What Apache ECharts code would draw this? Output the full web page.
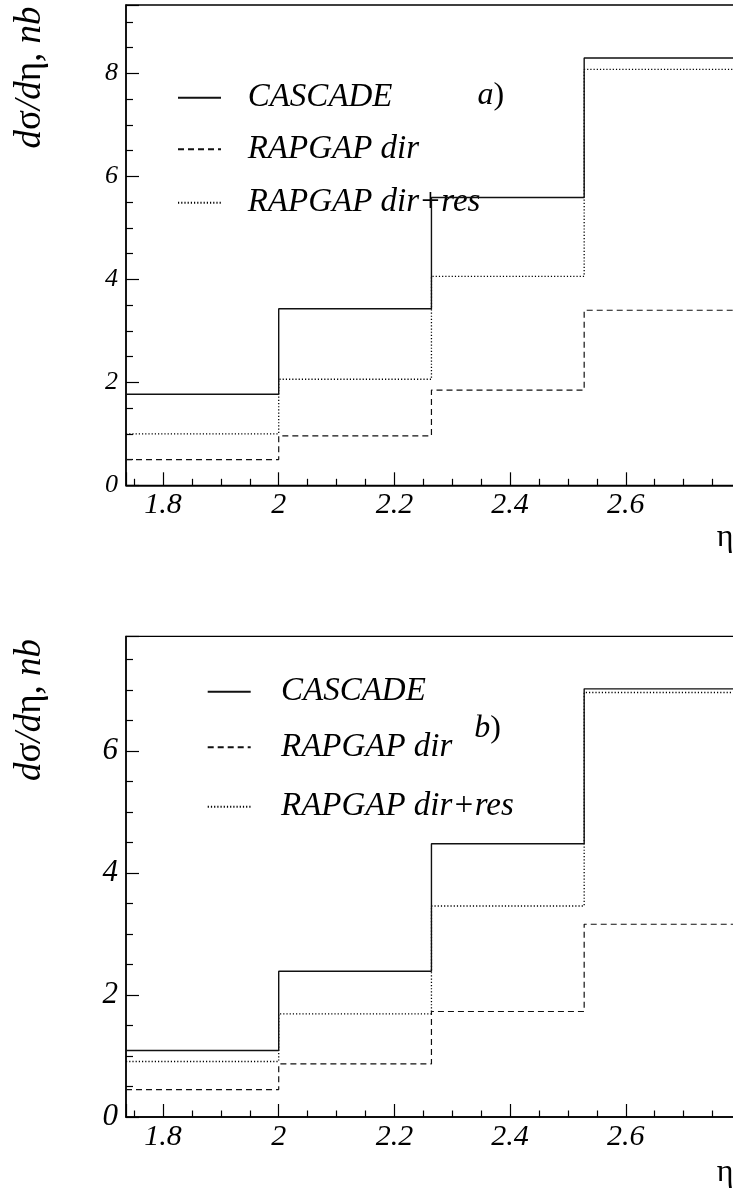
<!DOCTYPE html>
<html>
<head>
<meta charset="utf-8">
<script src="https://cdn.jsdelivr.net/npm/echarts@6/dist/echarts.min.js"></script>
<style>
html,body{margin:0;padding:0;background:#fff;}
#chart{width:733px;height:1191px;}
</style>
</head>
<body>
<div id="chart"></div>
<script>
// ---- data ----
const seriesNames = ['CASCADE', 'RAPGAP dir', 'RAPGAP dir+res'];
const binEdges = [1.736, 2.0, 2.264, 2.528, 2.792];
const cascadeA = [1.77, 3.43, 5.59, 8.30];
const rapgapDirA = [0.50, 0.96, 1.85, 3.40];
const rapgapDirResA = [1.00, 2.06, 4.06, 8.08];
const cascadeB = [1.09, 2.39, 4.48, 7.02];
const rapgapDirB = [0.45, 0.87, 1.73, 3.16];
const rapgapDirResB = [0.91, 1.69, 3.46, 6.96];
const panelLabels = ['a)', 'b)'];

// ---- helpers ----
function histPoints(edges, vals) {
  const pts = [];
  for (let i = 0; i < vals.length; i++) pts.push([edges[i], vals[i]]);
  pts.push([edges[edges.length - 1], vals[vals.length - 1]]);
  return pts;
}
const FONT = 'Liberation Serif';
const styles = [
  {type: 'solid', width: 1.4, color: '#111'},
  {type: [6, 4], width: 1.2, color: '#111'},
  {type: [1.2, 2], width: 1.3, color: '#000'}
];
const xPx = 578.5;
const xMin = 1.736, xMax = 2.85;

function xAxisDef(gridIndex, fs) {
  return {
    type: 'value', gridIndex: gridIndex, min: xMin, max: xMax,
    splitLine: {show: false},
    axisLine: {show: true, lineStyle: {color: '#000', width: 1.5}},
    axisTick: {show: true, inside: true, length: 13, lineStyle: {color: '#000', width: 1.2}},
    minorTick: {show: true, splitNumber: 4, length: 6.5, lineStyle: {color: '#000', width: 1.2}},
    axisLabel: {
      show: true, margin: 5, showMinLabel: false, showMaxLabel: false,
      fontFamily: FONT, fontStyle: 'italic', fontSize: fs, color: '#000',
      formatter: function (v) { return v > 2.7 ? '' : String(Math.round(v * 10) / 10); }
    }
  };
}
function yAxisDef(gridIndex, max, fs) {
  return {
    type: 'value', gridIndex: gridIndex, min: 0, max: max,
    splitLine: {show: false},
    axisLine: {show: true, lineStyle: {color: '#000', width: 1.5}},
    axisTick: {show: true, inside: true, length: 13, lineStyle: {color: '#000', width: 1.2}},
    minorTick: {show: true, splitNumber: 4, length: 7, lineStyle: {color: '#000', width: 1.2}},
    axisLabel: {
      show: true, margin: 8, showMaxLabel: false,
      fontFamily: FONT, fontStyle: 'italic', fontSize: fs, color: '#000'
    }
  };
}
function makeSeries(gridIndex, arrs) {
  return arrs.map(function (vals, k) {
    return {
      name: seriesNames[k], type: 'line', step: 'end',
      xAxisIndex: gridIndex, yAxisIndex: gridIndex,
      data: histPoints(binEdges, vals),
      symbol: 'none', silent: true, animation: false,
      z: 10 - k,
      lineStyle: styles[k]
    };
  });
}
function legendItem(name, left, rowY, textLeft) {
  const itemW = 43;
  return {
    left: left, top: rowY - 17, orient: 'vertical', padding: 0,
    data: [name], itemWidth: itemW, itemHeight: 34, selectedMode: false,
    itemStyle: {opacity: 0},
    textStyle: {
      fontFamily: FONT, fontStyle: 'italic', fontSize: 33, color: '#000',
      lineHeight: 34, padding: [0, 0, 0, textLeft - left - itemW - 5]
    }
  };
}
function textEl(x, y, rich, text, rot) {
  return {
    type: 'text', x: x, y: y, rotation: rot || 0, silent: true,
    style: {text: text, rich: rich, align: 'center', verticalAlign: 'middle', fill: '#000'}
  };
}
const titleRich = {
  i: {fontFamily: FONT, fontStyle: 'italic', fontSize: 37, fill: '#000'},
  g: {fontFamily: FONT, fontStyle: 'normal', fontSize: 37, fill: '#000'}
};
const yTitle = '{i|d}{g|σ}{i|/d}{g|η}{i|, nb}';
const labRich = {
  i: {fontFamily: FONT, fontStyle: 'italic', fontSize: 32, fill: '#000'},
  n: {fontFamily: FONT, fontStyle: 'normal', fontSize: 32, fill: '#000'}
};

const gridW = (xMax - xMin) * xPx;
const option = {
  backgroundColor: '#fff',
  animation: false,
  grid: [
    {left: 126, top: 5, width: gridW, height: 480.3, show: true, borderColor: '#000', borderWidth: 1.3, backgroundColor: 'transparent', outerBoundsMode: 'none', containLabel: false},
    {left: 126, top: 636.4, width: gridW, height: 480.6, show: true, borderColor: '#000', borderWidth: 1.3, backgroundColor: 'transparent', outerBoundsMode: 'none', containLabel: false}
  ],
  xAxis: [xAxisDef(0, 30), xAxisDef(1, 30)],
  yAxis: [yAxisDef(0, 9.33, 26), yAxisDef(1, 7.88, 31)],
  legend: [
    legendItem(seriesNames[0], 177, 97.7, 246.7),
    legendItem(seriesNames[1], 177, 149.3, 246.7),
    legendItem(seriesNames[2], 177, 202.7, 246.7),
    legendItem(seriesNames[0], 206.7, 691.7, 280),
    legendItem(seriesNames[1], 206.7, 747.3, 280),
    legendItem(seriesNames[2], 206.7, 806.7, 280)
  ],
  series: [].concat(
    makeSeries(0, [cascadeA, rapgapDirA, rapgapDirResA]),
    makeSeries(1, [cascadeB, rapgapDirB, rapgapDirResB])
  ),
  graphic: [
    textEl(30, 77.5, titleRich, yTitle, Math.PI / 2),
    textEl(30, 710, titleRich, yTitle, Math.PI / 2),
    textEl(490.8, 96, labRich, '{i|' + panelLabels[0].charAt(0) + '}{n|' + panelLabels[0].charAt(1) + '}'),
    textEl(487.5, 729, labRich, '{i|' + panelLabels[1].charAt(0) + '}{n|' + panelLabels[1].charAt(1) + '}'),
    textEl(725, 538, labRich, '{n|η}'),
    textEl(725, 1173, labRich, '{n|η}')
  ]
};
const chart = echarts.init(document.getElementById('chart'), null, {renderer: 'canvas'});
chart.setOption(option);
</script>
</body>
</html>
